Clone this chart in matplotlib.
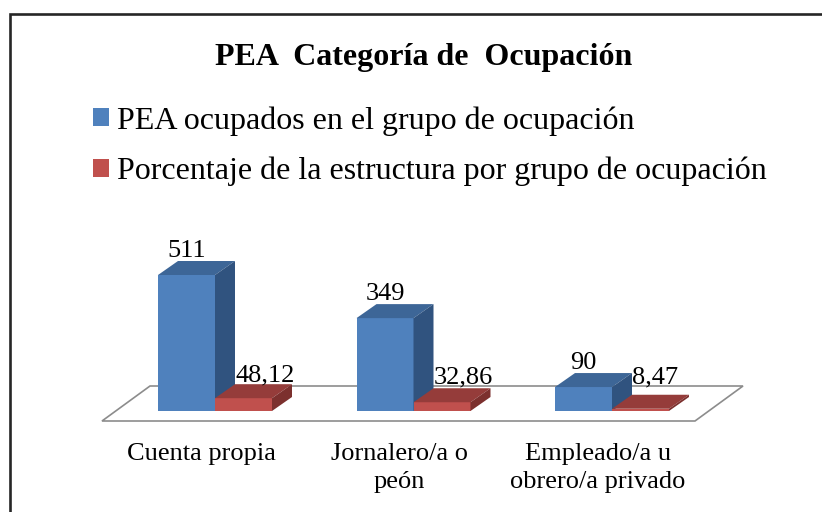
import matplotlib
matplotlib.use('Agg')
import matplotlib.pyplot as plt
from matplotlib.patches import Polygon, Rectangle, Patch

plt.rcParams['font.family'] = ['Liberation Serif', 'DejaVu Serif']

categories = ['Cuenta propia', 'Jornalero/a o\npeón', 'Empleado/a u\nobrero/a privado']
pea_ocupados = [511, 349, 90]
porcentaje = [48.12, 32.86, 8.47]
series_names = ['PEA ocupados en el grupo de ocupación',
                'Porcentaje de la estructura por grupo de ocupación']
title = 'PEA  Categoría de  Ocupación'

W, H = 822, 512
# pixel layout of the "3d" plot area
PX_X = 198.5          # pixels per category
X0 = 215              # pixel x of category 0 centre
Y0 = 411              # pixel y (from top) of value 0
PX_Y = 136 / 511      # pixels per value unit

def dx(px):
    return px / PX_X

def dy(px):
    return px / PX_Y

blue = ('#4F81BD', '#3D6697', '#30537F')
red = ('#C0504D', '#953C3A', '#7C302E')

fig = plt.figure(figsize=(W / 100, H / 100), dpi=100)
ax = fig.add_axes([0, 0, 1, 1])
ax.set_xlim((0 - X0) / PX_X, (W - X0) / PX_X)
ax.set_ylim(dy(Y0 - H), dy(Y0))
ax.axis('off')

# outer frame (cut off by right/bottom edges)
fig.patches.append(Rectangle((10 / W, -0.1), 1.2, 1 - 14 / H + 0.1, transform=fig.transFigure,
                             fill=False, edgecolor='#262626', linewidth=1.9))

# floor
fl, fr = dx(102 - X0), dx(695 - X0)
fy = dy(Y0 - 421)
fdx, fdy = dx(48), dy(35)
ax.add_patch(Polygon([(fl, fy), (fr, fy), (fr + fdx, fy + fdy), (fl + fdx, fy + fdy)],
                     closed=True, facecolor='white', edgecolor='#8c8c8c', linewidth=1.2, zorder=1))

bw = dx(57)
bdx, bdy = dx(20), dy(14)

def bar3d(x, h, cols, z):
    ax.bar(x, h, width=bw, align='edge', color=cols[0], linewidth=0, zorder=z)
    L, R = x, x + bw
    ax.add_patch(Polygon([(L, h), (R, h), (R + bdx, h + bdy), (L + bdx, h + bdy)],
                         closed=True, facecolor=cols[1], edgecolor='none', zorder=z))
    ax.add_patch(Polygon([(R, 0), (R + bdx, bdy), (R + bdx, h + bdy), (R, h)],
                         closed=True, facecolor=cols[2], edgecolor='none', zorder=z))

lab_fs = 19
for i, (a, b) in enumerate(zip(pea_ocupados, porcentaje)):
    bar3d(i - bw, a, blue, 2 + 2 * i)
    bar3d(i, b, red, 3 + 2 * i)
    ax.text(i - bw / 2, a + bdy + dy(4), f'{a}', ha='center', va='baseline',
            fontsize=lab_fs, zorder=10)
    ax.text(i + bdx, max(b + bdy, fy + fdy) + dy(3), f'{b:.2f}'.replace('.', ','),
            ha='left', va='baseline', fontsize=lab_fs, zorder=10)
    ax.text(i - dx(14), dy(Y0 - 443), categories[i], ha='center', va='top',
            fontsize=lab_fs, linespacing=1.36, zorder=10)

fig.text(423.5 / W, 1 - 65 / H, title, ha='center', va='baseline',
         fontsize=23, fontweight='bold')

handles = [Patch(facecolor=blue[0]), Patch(facecolor=red[0])]
fig.legend(handles, series_names, loc='upper left', bbox_to_anchor=(93 / W, 1 - 106 / H),
           frameon=False, fontsize=23, handlelength=0.5, handleheight=0.5,
           handletextpad=0.25, labelspacing=0.67, borderpad=0, borderaxespad=0)

fig.savefig('out.png', dpi=100)
